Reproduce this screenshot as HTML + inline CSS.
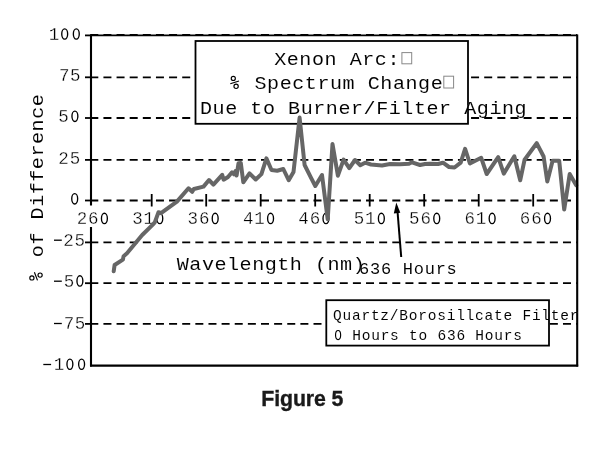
<!DOCTYPE html><html><head><meta charset="utf-8"><style>html,body{margin:0;padding:0;background:#fff;width:602px;height:456px;overflow:hidden}svg{display:block;will-change:transform}</style></head><body>
<svg width="602" height="456" viewBox="0 0 602 456">
<rect width="602" height="456" fill="#fff"/>
<g stroke="#000" fill="none">
<line x1="91.0" y1="35.4" x2="577.2" y2="35.4" stroke-width="1.6"/>
<line x1="90.0" y1="365.7" x2="578.2" y2="365.7" stroke-width="2.3"/>
<line x1="91.0" y1="34.6" x2="91.0" y2="366.5" stroke-width="2.1"/>
<line x1="577.2" y1="34.6" x2="577.2" y2="366.5" stroke-width="2.1"/>
<line x1="90.3" y1="35.0" x2="577.2" y2="35.0" stroke-width="2.0" stroke-dasharray="8 5.13"/>
<line x1="85" y1="35.4" x2="91.0" y2="35.4" stroke-width="1.8"/>
<line x1="90.3" y1="77.3" x2="577.2" y2="77.3" stroke-width="1.8" stroke-dasharray="8 5.13"/>
<line x1="85" y1="77.3" x2="91.0" y2="77.3" stroke-width="1.8"/>
<line x1="90.3" y1="118.0" x2="577.2" y2="118.0" stroke-width="1.8" stroke-dasharray="8 5.13"/>
<line x1="85" y1="118.0" x2="91.0" y2="118.0" stroke-width="1.8"/>
<line x1="90.3" y1="159.9" x2="577.2" y2="159.9" stroke-width="1.8" stroke-dasharray="8 5.13"/>
<line x1="85" y1="159.9" x2="91.0" y2="159.9" stroke-width="1.8"/>
<line x1="90.3" y1="200.5" x2="577.2" y2="200.5" stroke-width="1.8" stroke-dasharray="8 5.13"/>
<line x1="85" y1="200.5" x2="91.0" y2="200.5" stroke-width="1.8"/>
<line x1="90.3" y1="242.4" x2="577.2" y2="242.4" stroke-width="1.8" stroke-dasharray="8 5.13"/>
<line x1="85" y1="242.4" x2="91.0" y2="242.4" stroke-width="1.8"/>
<line x1="90.3" y1="283.2" x2="577.2" y2="283.2" stroke-width="1.8" stroke-dasharray="8 5.13"/>
<line x1="85" y1="283.2" x2="91.0" y2="283.2" stroke-width="1.8"/>
<line x1="90.3" y1="323.9" x2="577.2" y2="323.9" stroke-width="1.8" stroke-dasharray="8 5.13"/>
<line x1="85" y1="323.9" x2="91.0" y2="323.9" stroke-width="1.8"/>
<line x1="151.7" y1="194" x2="151.7" y2="206.5" stroke-width="1.8"/>
<line x1="206.2" y1="194" x2="206.2" y2="206.5" stroke-width="1.8"/>
<line x1="260.7" y1="194" x2="260.7" y2="206.5" stroke-width="1.8"/>
<line x1="315.2" y1="194" x2="315.2" y2="206.5" stroke-width="1.8"/>
<line x1="369.7" y1="194" x2="369.7" y2="206.5" stroke-width="1.8"/>
<line x1="424.2" y1="194" x2="424.2" y2="206.5" stroke-width="1.8"/>
<line x1="478.7" y1="194" x2="478.7" y2="206.5" stroke-width="1.8"/>
<line x1="533.2" y1="194" x2="533.2" y2="206.5" stroke-width="1.8"/>
</g>
<g font-family="Liberation Mono" font-size="17.5" fill="#000">
<rect x="76.0" y="205.5" width="34" height="21.5" fill="#fff" stroke="none"/>
<text x="76.75" y="224.20" stroke="#fff" stroke-width="0.3">2</text>
<text x="88.10" y="224.20" stroke="#fff" stroke-width="0.3">6</text>
<ellipse cx="104.40" cy="218.40" rx="2.95" ry="5.15" fill="none" stroke="#000" stroke-width="1.35"/>
<text x="132.14" y="224.20" stroke="#fff" stroke-width="0.3">3</text>
<text x="143.49" y="224.20" stroke="#fff" stroke-width="0.3">1</text>
<ellipse cx="159.79" cy="218.40" rx="2.95" ry="5.15" fill="none" stroke="#000" stroke-width="1.35"/>
<text x="187.53" y="224.20" stroke="#fff" stroke-width="0.3">3</text>
<text x="198.88" y="224.20" stroke="#fff" stroke-width="0.3">6</text>
<ellipse cx="215.18" cy="218.40" rx="2.95" ry="5.15" fill="none" stroke="#000" stroke-width="1.35"/>
<text x="242.92" y="224.20" stroke="#fff" stroke-width="0.3">4</text>
<text x="254.27" y="224.20" stroke="#fff" stroke-width="0.3">1</text>
<ellipse cx="270.57" cy="218.40" rx="2.95" ry="5.15" fill="none" stroke="#000" stroke-width="1.35"/>
<text x="298.31" y="224.20" stroke="#fff" stroke-width="0.3">4</text>
<text x="309.66" y="224.20" stroke="#fff" stroke-width="0.3">6</text>
<ellipse cx="325.96" cy="218.40" rx="2.95" ry="5.15" fill="none" stroke="#000" stroke-width="1.35"/>
<text x="353.70" y="224.20" stroke="#fff" stroke-width="0.3">5</text>
<text x="365.05" y="224.20" stroke="#fff" stroke-width="0.3">1</text>
<ellipse cx="381.35" cy="218.40" rx="2.95" ry="5.15" fill="none" stroke="#000" stroke-width="1.35"/>
<text x="409.09" y="224.20" stroke="#fff" stroke-width="0.3">5</text>
<text x="420.44" y="224.20" stroke="#fff" stroke-width="0.3">6</text>
<ellipse cx="436.74" cy="218.40" rx="2.95" ry="5.15" fill="none" stroke="#000" stroke-width="1.35"/>
<text x="464.48" y="224.20" stroke="#fff" stroke-width="0.3">6</text>
<text x="475.83" y="224.20" stroke="#fff" stroke-width="0.3">1</text>
<ellipse cx="492.13" cy="218.40" rx="2.95" ry="5.15" fill="none" stroke="#000" stroke-width="1.35"/>
<text x="519.87" y="224.20" stroke="#fff" stroke-width="0.3">6</text>
<text x="531.22" y="224.20" stroke="#fff" stroke-width="0.3">6</text>
<ellipse cx="547.52" cy="218.40" rx="2.95" ry="5.15" fill="none" stroke="#000" stroke-width="1.35"/>
<text x="48.75" y="39.80" stroke="#fff" stroke-width="0.3">1</text>
<ellipse cx="64.70" cy="34.00" rx="2.95" ry="5.15" fill="none" stroke="#000" stroke-width="1.35"/>
<ellipse cx="76.30" cy="34.00" rx="2.95" ry="5.15" fill="none" stroke="#000" stroke-width="1.35"/>
<text x="59.05" y="81.10" stroke="#fff" stroke-width="0.3">7</text>
<text x="70.05" y="81.10" stroke="#fff" stroke-width="0.3">5</text>
<text x="58.35" y="122.10" stroke="#fff" stroke-width="0.3">5</text>
<ellipse cx="74.90" cy="116.30" rx="2.95" ry="5.15" fill="none" stroke="#000" stroke-width="1.35"/>
<text x="58.35" y="164.10" stroke="#fff" stroke-width="0.3">2</text>
<text x="69.75" y="164.10" stroke="#fff" stroke-width="0.3">5</text>
<ellipse cx="74.70" cy="198.80" rx="2.95" ry="5.15" fill="none" stroke="#000" stroke-width="1.35"/>
<line x1="54.00" y1="240.20" x2="61.80" y2="240.20" stroke="#000" stroke-width="1.3"/>
<text x="63.25" y="245.70" stroke="#fff" stroke-width="0.3">2</text>
<text x="74.55" y="245.70" stroke="#fff" stroke-width="0.3">5</text>
<line x1="54.00" y1="281.20" x2="61.80" y2="281.20" stroke="#000" stroke-width="1.3"/>
<text x="63.75" y="286.70" stroke="#fff" stroke-width="0.3">5</text>
<ellipse cx="79.90" cy="280.90" rx="2.95" ry="5.15" fill="none" stroke="#000" stroke-width="1.35"/>
<line x1="54.00" y1="323.50" x2="61.80" y2="323.50" stroke="#000" stroke-width="1.3"/>
<text x="63.75" y="329.00" stroke="#fff" stroke-width="0.3">7</text>
<text x="74.75" y="329.00" stroke="#fff" stroke-width="0.3">5</text>
<line x1="43.30" y1="364.50" x2="51.10" y2="364.50" stroke="#000" stroke-width="1.3"/>
<text x="53.75" y="370.00" stroke="#fff" stroke-width="0.3">1</text>
<ellipse cx="69.90" cy="364.20" rx="2.95" ry="5.15" fill="none" stroke="#000" stroke-width="1.35"/>
<ellipse cx="81.60" cy="364.20" rx="2.95" ry="5.15" fill="none" stroke="#000" stroke-width="1.35"/>
</g>
<rect x="195.5" y="41" width="272.5" height="82.8" fill="#fff" stroke="#000" stroke-width="1.8"/>
<g font-family="Liberation Mono" font-size="18.4" letter-spacing="0.510" fill="#000" stroke="#fff" stroke-width="0.05">
<text transform="translate(274.2,64.8) scale(1.09,1)">Xenon Arc:</text>
<text transform="translate(254.48,89.2) scale(1.09,1)">Spectrum Change</text>
<text transform="translate(200,113.6) scale(1.09,1)">Due to Burner/Filter Aging</text>
</g>
<rect x="401.9" y="52.6" width="9.8" height="11.2" fill="none" stroke="#888" stroke-width="1"/>
<rect x="443.8" y="76.2" width="9.8" height="11.8" fill="none" stroke="#888" stroke-width="1"/>
<g font-family="Liberation Mono" font-size="19.2" fill="#000" stroke="#fff" stroke-width="0.05">
<text transform="translate(176.8,270.3) scale(1.05,1)" letter-spacing="0.451">Wavelength (nm)</text>
<text transform="translate(42.7,282.3) rotate(-90) scale(1.05,1)" letter-spacing="0.461"><tspan x="23.962">of Difference</tspan></text>
</g>
<g fill="none" stroke="#000" stroke-width="1.15">
<circle cx="233.3" cy="78.4" r="2.05"/><circle cx="236.1" cy="86.3" r="2.15"/><line x1="230.3" y1="83.8" x2="239" y2="81"/>
<circle cx="31.9" cy="277.9" r="2.1"/><circle cx="40.1" cy="275.1" r="2.1"/><line x1="34.4" y1="272.2" x2="37.5" y2="280.4"/>
</g>
<g font-family="Liberation Mono" font-size="17" letter-spacing="0.75" fill="#000" stroke="#fff" stroke-width="0.05"><text x="359" y="273.7">636 Hours</text></g>
<line x1="401.2" y1="257" x2="397.4" y2="210" stroke="#000" stroke-width="2"/>
<path d="M396.3,202.4 L393.8,213.4 L400.3,212.7 Z" fill="#000"/>
<rect x="326.3" y="300.2" width="222.7" height="45.4"  fill="#fff" stroke="#000" stroke-width="1.8"/>
<g font-family="Liberation Mono" font-size="14.5" letter-spacing="0.77" fill="#000" stroke="#fff" stroke-width="0.05">
<text x="333" y="320.2">Quartz/Borosillcate Filter</text>
<text x="352.24" y="340">Hours to 636 Hours</text>
<ellipse cx="338.1" cy="335" rx="2.55" ry="4.55" fill="none" stroke="#000" stroke-width="1.15"/>
</g>
<path d="M113.7,271.3 L114.6,265 L122.9,259.6 L123.6,256.2 L127,253.3 L142.2,235 L152.8,224.6 L154.8,222.4 L158.5,212.2 L161,213.2 L176.9,201.6 L188.5,188.3 L192.2,191.8 L193.9,189 L203.5,186.6 L209,180 L213.4,184.6 L222.2,174.8 L223.6,179.7 L228,177 L232,172.3 L234,174.3 L235.5,171 L236.6,175.5 L238.5,163.2 L240.8,163 L243.3,182.3 L249.5,173.3 L255.7,179.5 L261.4,174.1 L266.4,158.3 L271.5,170 L277.2,170.7 L283.3,169 L288.7,180.2 L293.5,172 L299.6,117.6 L304.6,165 L311.2,178.1 L315.3,186 L322,175 L327.7,219.3 L332.5,144 L337.9,175.7 L343.6,159.6 L349.3,168.2 L355,160 L360.3,165.2 L365.1,162.7 L371,164.5 L382,165.5 L390,164 L400,164.2 L409,163.7 L412,162.3 L420,165 L425,164 L430,163.7 L438,164 L443,162.7 L449,167 L454.5,167.5 L460.7,162.6 L465.1,148.8 L469.9,163.5 L481.2,157.8 L486.7,174 L498.2,157.1 L503.8,173.6 L514.3,156.3 L520.2,180.3 L524.6,159.7 L536.7,143.2 L543.6,156.5 L547.3,181.5 L552.6,160.8 L559.2,160.8 L564.2,209.5 L569.7,174 L576.2,185.3" fill="none" stroke="#666" stroke-width="4" stroke-linejoin="round" stroke-linecap="round"/>
<line x1="577.2" y1="150" x2="577.2" y2="230" stroke="#000" stroke-width="2.1"/>
<text x="261.3" y="405.8" font-family="Liberation Sans" font-weight="bold" font-size="21.3" letter-spacing="-0.1" fill="#1a1a1a" stroke="#1a1a1a" stroke-width="0.35">Figure 5</text>
</svg></body></html>
